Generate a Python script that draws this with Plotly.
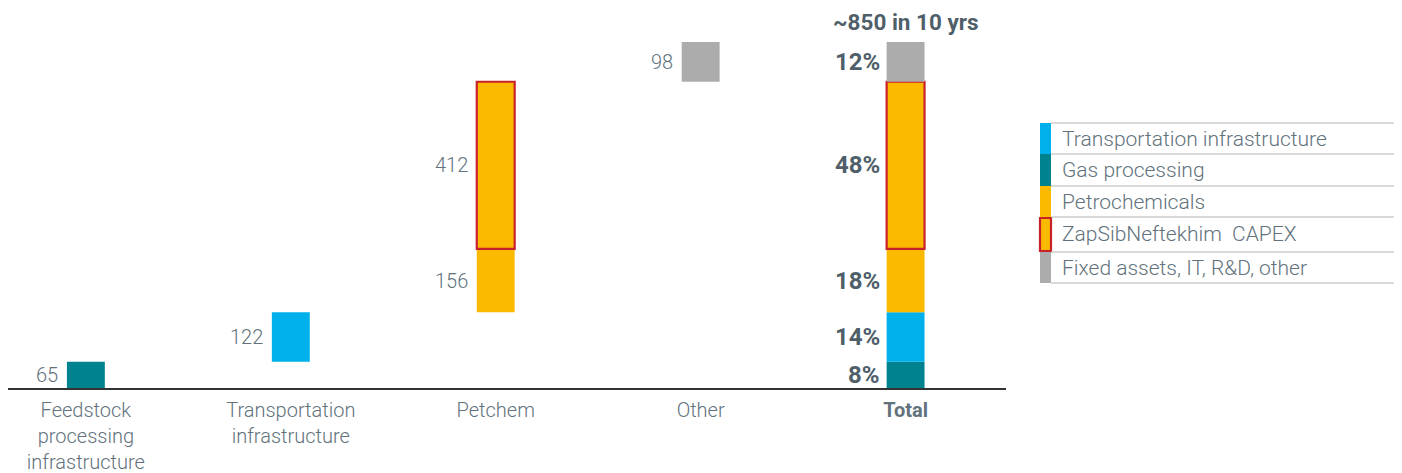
import plotly.graph_objects as go

# ---- data ----
categories = ["Feedstock", "Transport", "Petchem", "Other", "Total"]
category_labels = ["Feedstock<br>processing<br>infrastructure", "Transportation<br>infrastructure",
                   "Petchem", "Other", "<b>Total</b>"]
segment_names = ["Gas processing", "Transportation infrastructure", "Petrochemicals",
                 "ZapSibNeftekhim  CAPEX", "Fixed assets, IT, R&D, other"]
segment_category = ["Feedstock", "Transport", "Petchem", "Petchem", "Other"]
segment_values = [65, 122, 156, 412, 98]
pct_labels = ["8%", "14%", "18%", "48%", "12%"]
total_label = "~850 in 10 yrs"
legend_order = ["Transportation infrastructure", "Gas processing", "Petrochemicals",
                "ZapSibNeftekhim  CAPEX", "Fixed assets, IT, R&D, other"]

# ---- styles ----
colors = {
    "Gas processing": "#00838f",
    "Transportation infrastructure": "#00b0ea",
    "Petrochemicals": "#fbba00",
    "ZapSibNeftekhim  CAPEX": "#fbba00",
    "Fixed assets, IT, R&D, other": "#acacac",
}
RED = "#c9212a"
TXT = "#62727c"
BOLD = "#4f5f69"
FONT = "Roboto"

OFF = 8  # page body margin
W, H = 1394, 465
ML, MT, MB = 0, 12, 85
PW = 998
MR = W - ML - PW
PH = H - MT - MB

def px(x):  # page x -> paper
    return (x - OFF - ML) / PW

def py(y):  # page y -> paper
    return (H - MB - (y - OFF)) / PH

fig = go.Figure()

bases = []
b = 0
for v in segment_values:
    bases.append(b)
    b += v
total = b

for name, cat, v, base in zip(segment_names, segment_category, segment_values, bases):
    outlined = name == "ZapSibNeftekhim  CAPEX"
    fig.add_trace(go.Bar(
        x=[cat, "Total"], y=[v, v], base=[base, base], name=name,
        width=0.185,
        marker=dict(color=colors[name],
                    line=dict(color=RED if outlined else colors[name], width=2.2 if outlined else 0)),
        showlegend=False, hoverinfo="skip",
    ))

annotations = []
for cat, v, base, pct in zip(segment_category, segment_values, bases, pct_labels):
    annotations.append(dict(x=cat, y=base + v / 2, text=str(v), showarrow=False,
                            xanchor="right", yanchor="middle", xshift=-26,
                            font=dict(family=FONT, size=20, color=TXT, weight=300)))
    annotations.append(dict(x="Total", y=base + v / 2, text=f"<b>{pct}</b>", showarrow=False,
                            xanchor="right", yanchor="middle", xshift=-24,
                            font=dict(family=FONT, size=24, color=BOLD)))
annotations.append(dict(x="Total", y=total, text=f"<b>{total_label}</b>", showarrow=False,
                        xanchor="center", yanchor="bottom", yshift=5,
                        font=dict(family=FONT, size=22.5, color=BOLD)))

# legend (custom rows)
shapes = []
row_edges = [123, 154, 186, 217, 252, 283]
for i, name in enumerate(legend_order):
    y0, y1 = row_edges[i], row_edges[i + 1]
    outlined = name == "ZapSibNeftekhim  CAPEX"
    shapes.append(dict(type="rect", xref="paper", yref="paper",
                       x0=px(1040), x1=px(1051), y0=py(y1 - (1 if outlined else 0)), y1=py(y0 + (1 if outlined else 0)),
                       fillcolor=colors[name],
                       line=dict(color=RED if outlined else colors[name], width=2.2 if outlined else 0)))
    annotations.append(dict(xref="paper", yref="paper", x=px(1060), y=py((y0 + y1) / 2),
                            text=name, showarrow=False, xanchor="left", yanchor="middle",
                            font=dict(family=FONT, size=21, color=TXT, weight=300)))
for y in row_edges:
    shapes.append(dict(type="line", xref="paper", yref="paper", x0=px(1051), x1=px(1396),
                       y0=py(y), y1=py(y), line=dict(color="#b4b4b4", width=1)))

fig.update_layout(
    width=W, height=H,
    margin=dict(l=ML, r=MR, t=MT, b=MB, autoexpand=False),
    plot_bgcolor="white", paper_bgcolor="white",
    barmode="overlay",
    showlegend=False,
    xaxis=dict(type="category", categoryorder="array", categoryarray=categories,
               tickvals=categories, ticktext=category_labels, automargin=False,
               range=[-0.38, 4.49], showline=True, linecolor="#333333", linewidth=1.5,
               ticks="", showgrid=False, zeroline=False, ticklabelstandoff=3,
               tickfont=dict(family=FONT, size=20, color=TXT, weight=300)),
    yaxis=dict(range=[0, total * PH / 346], visible=False, showgrid=False, zeroline=False,
               automargin=False),
    annotations=annotations,
    shapes=shapes,
    font=dict(family=FONT),
)

fig.write_html("out.html")
